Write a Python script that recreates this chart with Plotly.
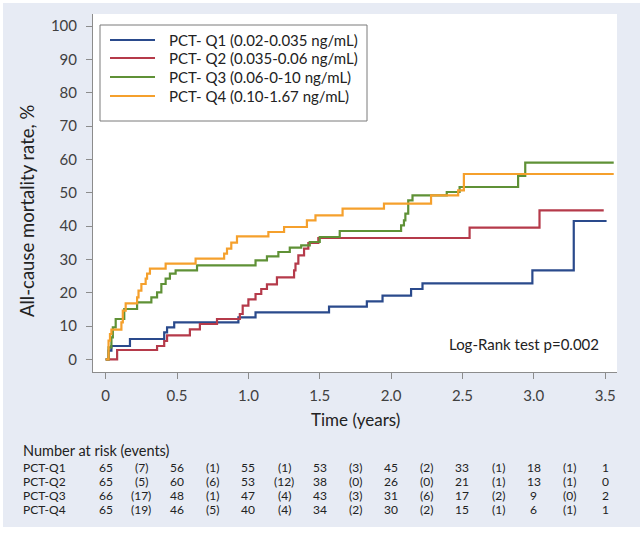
import plotly.graph_objects as go

# ---------------- data ----------------
q1_t = [0, 0.02, 0.04, 0.17, 0.41, 0.43, 0.48, 0.93, 1.05, 1.565, 1.83, 1.94, 2.14, 2.22, 2.99, 3.28, 3.51]
q1_v = [0, 2.6, 4.0, 6.1, 8.1, 9.6, 11.1, 12.6, 14.1, 15.8, 17.4, 19.1, 21.1, 22.8, 26.7, 41.5, 41.5]

q2_t = [0, 0.08, 0.36, 0.41, 0.43, 0.59, 0.66, 0.78, 0.94, 0.96, 1.0, 1.05, 1.09, 1.13, 1.2, 1.32, 1.33, 1.35, 1.39, 1.42, 1.49, 2.55, 3.04, 3.49]
q2_v = [0, 2.8, 4.0, 5.5, 7.2, 9.0, 10.6, 12.1, 13.6, 16.1, 18.0, 19.6, 21.1, 22.5, 24.6, 26.7, 28.7, 31.2, 33.2, 34.9, 36.4, 39.5, 44.7, 44.7]

q3_t = [0, 0.02, 0.04, 0.05, 0.07, 0.13, 0.22, 0.32, 0.36, 0.39, 0.42, 0.45, 0.49, 0.64, 1.05, 1.13, 1.21, 1.29, 1.37, 1.43, 1.50, 1.64, 2.07, 2.09, 2.10, 2.12, 2.15, 2.39, 2.48, 2.89, 2.94, 3.56]
q3_v = [0, 3.6, 6.6, 9.6, 12.1, 15.1, 17.1, 18.6, 20.1, 22.6, 24.2, 25.7, 26.7, 28.2, 29.7, 30.9, 32.2, 33.5, 34.2, 35.2, 36.7, 38.5, 40.2, 41.7, 43.7, 47.7, 49.2, 50.2, 51.7, 55.0, 59.0, 59.0]

q4_t = [0, 0.02, 0.03, 0.04, 0.11, 0.12, 0.14, 0.22, 0.23, 0.25, 0.28, 0.29, 0.31, 0.42, 0.63, 0.83, 0.85, 0.88, 0.92, 1.14, 1.25, 1.41, 1.47, 1.66, 1.95, 2.28, 2.47, 2.51, 3.56]
q4_v = [0, 5.6, 7.6, 8.9, 11.1, 14.6, 16.8, 18.6, 20.6, 22.6, 24.2, 25.7, 27.2, 28.7, 30.2, 31.7, 33.2, 35.0, 36.9, 38.2, 39.7, 41.7, 43.2, 45.2, 46.7, 49.2, 50.7, 55.6, 55.6]

series_names = ["PCT- Q1 (0.02-0.035 ng/mL)", "PCT- Q2 (0.035-0.06 ng/mL)",
                "PCT- Q3 (0.06-0-10 ng/mL)", "PCT- Q4 (0.10-1.67 ng/mL)"]
series_colors = ["#2a4a8c", "#b53a4a", "#5f9136", "#f5a02c"]

x_ticks = [0, 0.5, 1.0, 1.5, 2.0, 2.5, 3.0, 3.5]
x_tick_labels = ["0", "0.5", "1.0", "1.5", "2.0", "2.5", "3.0", "3.5"]
y_ticks = [0, 10, 20, 30, 40, 50, 60, 70, 80, 90, 100]

risk_rows = ["PCT-Q1", "PCT-Q2", "PCT-Q3", "PCT-Q4"]
at_risk = [
    [65, 56, 55, 53, 45, 33, 18, 1],
    [65, 60, 53, 38, 26, 21, 13, 0],
    [66, 48, 47, 43, 31, 17, 9, 2],
    [65, 46, 40, 34, 30, 15, 6, 1],
]
events = [
    [7, 1, 1, 3, 2, 1, 1],
    [5, 6, 12, 0, 0, 1, 1],
    [17, 1, 4, 3, 6, 2, 0],
    [19, 5, 4, 2, 2, 1, 1],
]

# ---------------- figure ----------------
W, H = 640, 536
L, R, T, B = 93, 23, 14, 164
plot_w = W - L - R
plot_h = H - T - B

def py(ypx):
    return (H - B - ypx) / plot_h

def px(xpx):
    return (xpx - L) / plot_w

FONT = "Lato"
TXT = "#222222"
fig = go.Figure()
for t, v, n, c in zip([q1_t, q2_t, q3_t, q4_t], [q1_v, q2_v, q3_v, q4_v], series_names, series_colors):
    fig.add_trace(go.Scatter(x=t, y=v, mode="lines", name=n, showlegend=False,
                             line=dict(color=c, width=2.2, shape="hv")))

shapes = []
# panel background (light lavender with thin white frame) and white plot area
shapes.append(dict(type="rect", xref="paper", yref="paper", layer="below",
                   x0=px(3), x1=px(640), y0=py(527), y1=py(3),
                   fillcolor="#e7ebf4", line=dict(width=0)))
shapes.append(dict(type="rect", xref="paper", yref="paper", layer="below",
                   x0=0, x1=1, y0=0, y1=1,
                   fillcolor="#ffffff", line=dict(width=0)))
# legend box
shapes.append(dict(type="rect", xref="paper", yref="paper", layer="above",
                   x0=px(100), x1=px(367), y0=py(121), y1=py(25),
                   fillcolor="#ffffff", line=dict(color="#7a7a7a", width=1)))

ann = []
leg_y = [40, 58, 77, 96]
for i, (n, c) in enumerate(zip(series_names, series_colors)):
    shapes.append(dict(type="line", xref="paper", yref="paper", layer="above",
                       x0=px(110), x1=px(155), y0=py(leg_y[i]), y1=py(leg_y[i]),
                       line=dict(color=c, width=2.2)))
    ann.append(dict(x=px(168), y=py(leg_y[i]), xref="paper", yref="paper", text=n,
                    showarrow=False, xanchor="left", yanchor="middle", borderpad=0,
                    font=dict(size=15, color=TXT, family=FONT)))

ann.append(dict(x=3.47, y=4.6, xref="x", yref="y", text="Log-Rank test p=0.002",
                showarrow=False, xanchor="right", yanchor="middle",
                font=dict(size=15, color=TXT, family=FONT)))
ann.append(dict(x=px(27), y=py(211), xref="paper", yref="paper",
                text="All-cause mortality rate, %", textangle=-90,
                showarrow=False, xanchor="center", yanchor="middle",
                font=dict(size=18.5, color=TXT, family=FONT)))
ann.append(dict(x=0.5, y=py(419), xref="paper", yref="paper", text="Time (years)",
                showarrow=False, xanchor="center", yanchor="middle",
                font=dict(size=17, color=TXT, family=FONT)))
ann.append(dict(x=px(22), y=py(450), xref="paper", yref="paper", text="Number at risk (events)",
                showarrow=False, xanchor="left", yanchor="middle", borderpad=0,
                font=dict(size=14.5, color=TXT, family=FONT)))
row_y = [467.5, 481.5, 495.5, 509.5]
TS = 12
for i, name in enumerate(risk_rows):
    yy = py(row_y[i])
    ann.append(dict(x=px(22), y=yy, xref="paper", yref="paper", text=name,
                    showarrow=False, xanchor="left", yanchor="middle", borderpad=0,
                    font=dict(size=TS, color=TXT, family=FONT)))
    for j, val in enumerate(at_risk[i]):
        ann.append(dict(x=x_ticks[j], y=yy, xref="x", yref="paper", text=str(val),
                        showarrow=False, xanchor="center", yanchor="middle", borderpad=0,
                        font=dict(size=TS, color=TXT, family=FONT)))
    for j, val in enumerate(events[i]):
        ann.append(dict(x=(x_ticks[j] + x_ticks[j + 1]) / 2, y=yy, xref="x", yref="paper",
                        text="(" + str(val) + ")",
                        showarrow=False, xanchor="center", yanchor="middle", borderpad=0,
                        font=dict(size=TS, color=TXT, family=FONT)))

fig.update_layout(
    width=W, height=H,
    margin=dict(l=L, r=R, t=T, b=B, pad=0),
    paper_bgcolor="#ffffff",
    plot_bgcolor="#ffffff",
    font=dict(family=FONT, color="#333333"),
    showlegend=False,
    xaxis=dict(range=[-0.089, 3.583], tickvals=x_ticks, ticktext=x_tick_labels,
               showgrid=False, zeroline=False, showline=True, linecolor="#8c8c8c", linewidth=1,
               ticks="outside", ticklen=6, tickcolor="#8c8c8c", ticklabelstandoff=4,
               tickfont=dict(size=15, color="#404040", family=FONT)),
    yaxis=dict(range=[-3.8, 103.6], tickvals=y_ticks,
               showgrid=False, zeroline=False, showline=True, linecolor="#8c8c8c", linewidth=1,
               ticks="outside", ticklen=6, tickcolor="#8c8c8c", ticklabelstandoff=6,
               tickfont=dict(size=15, color="#404040", family=FONT)),
    shapes=shapes,
    annotations=ann,
)

fig.write_html("out.html", config={"displayModeBar": False},
               post_script="document.body.style.margin='0px';document.body.style.padding='0px';")
